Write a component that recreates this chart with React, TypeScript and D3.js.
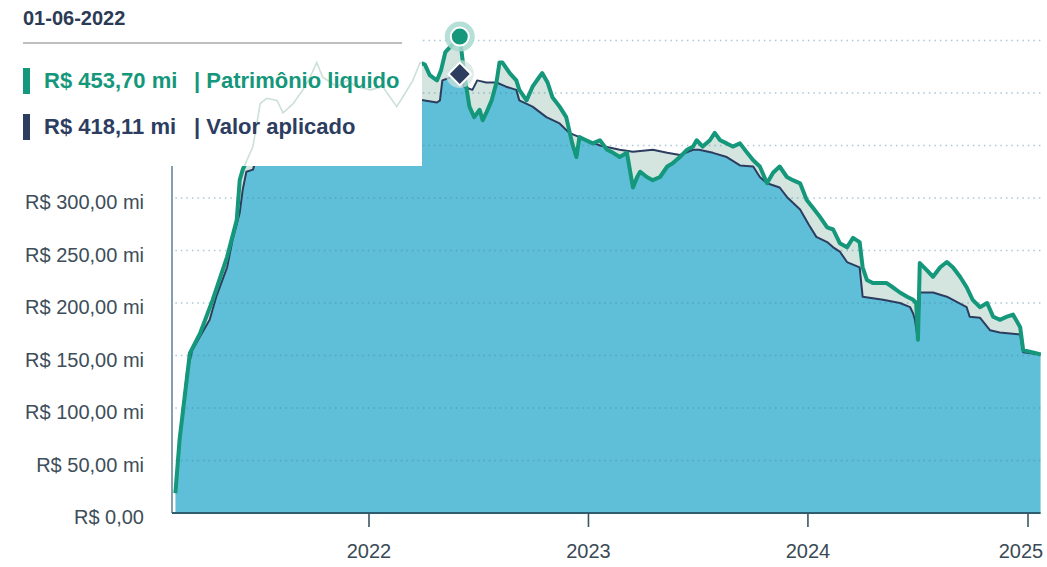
import React from "react";
import * as d3 from "d3";

const patrimonioDates = [
  "2021-02-13","2021-02-20","2021-03-09","2021-03-26","2021-04-16","2021-05-10","2021-05-26","2021-05-31","2021-06-05","2021-06-22",
  "2021-07-04","2021-07-15","2021-08-01","2021-08-11","2021-08-28","2021-09-13","2021-09-25","2021-10-06","2021-10-16","2021-11-09",
  "2021-11-25","2021-12-12","2022-01-03","2022-01-24","2022-02-16","2022-02-26","2022-03-15","2022-03-27","2022-04-04","2022-04-12",
  "2022-04-24","2022-05-01","2022-05-08","2022-06-01","2022-06-08","2022-06-17","2022-06-25","2022-07-04","2022-07-09","2022-07-15",
  "2022-07-24","2022-08-01","2022-08-06","2022-08-11","2022-08-23","2022-09-03","2022-09-08","2022-09-20","2022-09-30","2022-10-11",
  "2022-10-16","2022-10-25","2022-11-02","2022-11-14","2022-11-25","2022-12-05","2022-12-12","2022-12-17","2022-12-28","2023-01-08",
  "2023-01-20","2023-02-01","2023-02-11","2023-02-22","2023-03-06","2023-03-16","2023-03-23","2023-03-28","2023-04-08","2023-04-18",
  "2023-04-30","2023-05-12","2023-05-21","2023-06-02","2023-06-14","2023-06-24","2023-06-30","2023-07-10","2023-07-22","2023-07-30",
  "2023-08-08","2023-08-19","2023-08-29","2023-09-10","2023-09-22","2023-10-02","2023-10-13","2023-10-25","2023-11-04","2023-11-15",
  "2023-11-27","2023-12-07","2023-12-19","2023-12-30","2024-01-09","2024-01-21","2024-02-02","2024-02-12","2024-02-23","2024-03-06",
  "2024-03-16","2024-03-27","2024-04-01","2024-04-08","2024-04-18","2024-05-11","2024-05-21","2024-06-02","2024-06-14","2024-06-24",
  "2024-06-29","2024-07-02","2024-07-05","2024-07-17","2024-07-27","2024-08-08","2024-08-19","2024-08-29","2024-09-10","2024-09-21",
  "2024-10-01","2024-10-13","2024-10-25","2024-11-04","2024-11-15","2024-11-27","2024-12-07","2024-12-19","2024-12-24","2025-01-09",
  "2025-01-22",
];
const patrimonioValues = [
  19,70,152,171,203,244,279,317,327,349,
  390,395,393,381,390,403,415,429,415,406,
  412,406,403,406,387,396,412,429,427,417,
  412,422,439,453.7,420,387,377,384,374,381,
  393,410,429,429,419,412,403,393,406,415,
  419,410,396,387,377,352,339,358,355,352,
  355,346,343,339,343,310,320,325,320,317,
  320,330,333,339,346,349,355,349,355,362,
  355,352,349,352,343,336,330,314,324,330,
  320,317,314,298,291,282,272,270,257,253,
  262,258,234,222,219,219,215,210,206,203,
  200,165,238,231,225,234,239,234,225,215,
  203,196,200,187,184,187,189,177,155,153,
  151,
];

const aplicadoDates = [
  "2021-02-13","2021-02-20","2021-03-04","2021-03-13","2021-03-26","2021-04-11","2021-04-22","2021-05-10","2021-05-19","2021-05-31",
  "2021-06-05","2021-06-11","2021-06-22","2021-07-04","2021-07-28","2021-08-30","2021-10-11","2021-11-30","2022-01-19","2022-03-10",
  "2022-04-01","2022-04-24","2022-04-29","2022-05-03","2022-06-01","2022-06-08","2022-06-22","2022-06-30","2022-07-15","2022-08-01",
  "2022-08-17","2022-09-03","2022-09-08","2022-09-30","2022-10-23","2022-11-14","2022-11-30","2022-12-17","2023-01-20","2023-02-22",
  "2023-03-16","2023-04-18","2023-05-12","2023-06-02","2023-06-24","2023-07-04","2023-07-27","2023-08-19","2023-09-10","2023-10-02",
  "2023-10-13","2023-10-25","2023-11-15","2023-11-27","2023-12-19","2024-01-03","2024-01-15","2024-02-02","2024-02-12","2024-02-23",
  "2024-03-06","2024-03-27","2024-04-01","2024-05-05","2024-06-02","2024-06-19","2024-06-24","2024-06-27","2024-07-02","2024-07-05",
  "2024-07-27","2024-08-19","2024-09-21","2024-09-26","2024-10-13","2024-10-30","2024-11-15","2024-12-19","2024-12-24","2025-01-22",
];
const aplicadoValues = [
  19,70,133,155,168,184,206,234,260,286,
  308,325,327,350,369,379,386,390,393,395,
  393,391,393,412,418.11,406,403,412,410,410,
  406,403,393,387,377,371,362,358,350,346,
  344,346,343,341,346,346,343,339,331,330,
  320,314,310,301,289,274,263,258,253,249,
  239,234,206,203,200,196,190,184,165,210,
  210,206,196,187,186,174,172,170,153,151,
];

const yTicks = [0, 50, 100, 150, 200, 250, 300, 350, 400, 450];
const yTickLabels = [
  "R$ 0,00","R$ 50,00 mi","R$ 100,00 mi","R$ 150,00 mi","R$ 200,00 mi","R$ 250,00 mi",
  "R$ 300,00 mi","R$ 350,00 mi","R$ 400,00 mi","R$ 450,00 mi",
];
const xTickYears = ["2022", "2023", "2024", "2025"];

const tooltipDate = "01-06-2022";
const tooltipRows = [
  { value: "R$ 453,70 mi", label: "| Patrimônio liquido", series: "patrimonio" },
  { value: "R$ 418,11 mi", label: "| Valor aplicado", series: "aplicado" },
];
const highlightDate = "2022-06-01";

const GREEN = "#14977a";
const NAVY = "#2c3d5f";
const FILL = "#5fbfd8";
const LIGHT = "#d3e5de";
const FONT = "'Liberation Sans', Arial, Helvetica, sans-serif";

type P = { d: Date; v: number };

export default function App() {
  const W = 1047, H = 567;
  const parse = d3.timeParse("%Y-%m-%d");
  const green: P[] = patrimonioDates.map((s, i) => ({ d: parse(s)!, v: patrimonioValues[i] }));
  const navy: P[] = aplicadoDates.map((s, i) => ({ d: parse(s)!, v: aplicadoValues[i] }));

  const x = d3.scaleTime()
    .domain([parse("2022-01-01")!, parse("2025-01-01")!])
    .range([369, 1028]);
  const y = d3.scaleLinear().domain([0, 450]).range([513, 40.5]);

  const x0 = x(green[0].d);
  const x1 = x(green[green.length - 1].d);

  const areaGen = d3.area<P>().x(p => x(p.d)).y0(y(0)).y1(p => y(p.v));
  const lineGen = d3.line<P>().x(p => x(p.d)).y(p => y(p.v));

  const hd = parse(highlightDate)!;
  const hg = green.find(p => +p.d === +hd)!;
  const hn = navy.find(p => +p.d === +hd)!;
  const hx = x(hd);

  const tipW = 422, tipH = 166;

  return (
    <svg width={W} height={H} style={{ position: "absolute", left: 0, top: 0, background: "#fff" }}>
      <defs>
        <clipPath id="greenArea">
          <path d={areaGen(green)!} />
        </clipPath>
        <clipPath id="tipClip">
          <rect x={0} y={0} width={tipW} height={tipH} />
        </clipPath>
      </defs>
      <rect x={0} y={0} width={W} height={H} fill="#fff" />

      {/* fills */}
      <path d={areaGen(green)!} fill={LIGHT} />
      <path d={areaGen(navy)!} fill={LIGHT} />
      <path d={areaGen(navy)!} fill={FILL} clipPath="url(#greenArea)" />

      {/* gridlines */}
      {yTicks.filter(t => t > 0).map(t => (
        <line key={t} x1={x0} x2={x1} y1={y(t)} y2={y(t)} stroke="#3f86a8" strokeOpacity={0.45}
          strokeWidth={1.3} strokeDasharray="1.5 4" />
      ))}

      {/* lines */}
      <path d={lineGen(navy)!} fill="none" stroke={NAVY} strokeWidth={2} strokeLinejoin="round" />
      <path d={lineGen(green)!} fill="none" stroke={GREEN} strokeWidth={4} strokeLinejoin="round" />

      {/* axes */}
      <line x1={172} x2={172} y1={40} y2={513} stroke="#5d7f92" strokeWidth={1.5} />
      <line x1={172} x2={x1} y1={513} y2={513} stroke="#2e5d70" strokeWidth={2} />
      {xTickYears.map(yr => {
        const tx = x(parse(`${yr}-01-01`)!);
        const lx = Math.min(tx, W - 26);
        return (
          <g key={yr}>
            <line x1={tx} x2={tx} y1={513} y2={527} stroke="#3b5565" strokeWidth={1.6} />
            <text x={lx} y={558} textAnchor="middle" fontFamily={FONT} fontSize={20} fill="#3a4a55">{yr}</text>
          </g>
        );
      })}
      {yTicks.map((t, i) => (y(t) > tipH + 10 ? (
        <text key={t} x={144} y={y(t) + 11} textAnchor="end" fontFamily={FONT} fontSize={20} fill="#3d4e59">
          {yTickLabels[i]}
        </text>
      ) : null))}

      {/* tooltip */}
      <rect x={0} y={0} width={tipW} height={tipH} fill="#fff" />
      <path d={lineGen(green)!} fill="none" stroke="#a9cbbd" strokeOpacity={0.6} strokeWidth={1.6}
        clipPath="url(#tipClip)" />
      <text x={23} y={25} fontFamily={FONT} fontSize={20} fontWeight="bold" fill="#2b3a55">{tooltipDate}</text>
      <line x1={23} x2={402} y1={43} y2={43} stroke="#a9a9a9" strokeWidth={1.5} />
      {tooltipRows.map((r, i) => {
        const col = r.series === "patrimonio" ? GREEN : NAVY;
        const by = 88 + i * 46;
        return (
          <g key={r.label}>
            <rect x={23} y={by - 20} width={7} height={26} fill={col} />
            <text x={44} y={by} fontFamily={FONT} fontSize={22} fontWeight="bold" fill={col}>{r.value}</text>
            <text x={194} y={by} fontFamily={FONT} fontSize={22} fontWeight="bold" fill={col}>{r.label}</text>
          </g>
        );
      })}

      {/* highlight markers */}
      <circle cx={hx} cy={y(hg.v)} r={15} fill="#a9d9d1" fillOpacity={0.85} />
      <circle cx={hx} cy={y(hg.v)} r={9} fill={GREEN} stroke="#fff" strokeWidth={2} />
      <circle cx={hx} cy={y(hn.v)} r={14} fill="#d0e2df" fillOpacity={0.7} />
      <rect x={hx - 8} y={y(hn.v) - 8} width={16} height={16} fill={NAVY} stroke="#fff" strokeWidth={2}
        transform={`rotate(45 ${hx} ${y(hn.v)})`} />
    </svg>
  );
}
